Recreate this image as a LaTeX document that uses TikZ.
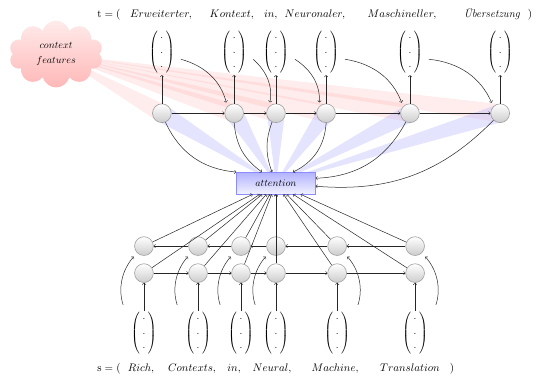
\documentclass[tikz,border=0pt]{standalone}
\usetikzlibrary{shapes.symbols,calc,backgrounds}
\newcommand{\dotvec}{$\renewcommand{\arraystretch}{1.2}\left(\begin{array}{@{\hspace{2.6pt}}c@{\hspace{2.6pt}}}\cdot\\ \cdot\\ \cdot\end{array}\right)$}
\begin{document}
\begin{tikzpicture}[
    rnn/.style={circle,draw=gray!75,semithick,top color=white,bottom color=gray!40,minimum size=0.66cm,inner sep=0pt},
    wvec/.style={inner xsep=6pt,inner ysep=1pt},
    word/.style={anchor=base,inner sep=0pt,font=\fontsize{11}{13}\selectfont},
    link/.style={->,line width=0.5pt,black!85},
    feed/.style={link,shorten >=4pt},
    srcfeed/.style={link,shorten <=6pt,shorten >=5pt},
    ctxbeam/.style={fill=red!30,opacity=0.25},
    attbeam/.style={fill=blue!30,opacity=0.35}
  ]
  \useasboundingbox (0,0) rectangle (18.91,13.22);

  \path (1.97,11.32) node [cloud,cloud puffs=10,aspect=1.5,minimum width=3.3cm,minimum height=2.35cm,top color=red!8,bottom color=red!28,align=center](ctx){$context$\\[3pt]$features$};
  \path (9.70,6.78) node [draw=blue!45,top color=blue!30,bottom color=blue!5,minimum width=2.78cm,minimum height=0.77cm](att){$attention$};

  % decoder
  \path (5.69,9.24) node [rnn](dec_1){};
  \path (8.23,9.24) node [rnn](dec_2){};
  \path (9.70,9.24) node [rnn](dec_3){};
  \path (11.46,9.24) node [rnn](dec_4){};
  \path (14.41,9.24) node [rnn](dec_5){};
  \path (17.58,9.24) node [rnn](dec_6){};
  \path (5.69,11.38) node [wvec](tgt_1){\dotvec};
  \path (8.23,11.38) node [wvec](tgt_2){\dotvec};
  \path (9.70,11.38) node [wvec](tgt_3){\dotvec};
  \path (11.46,11.38) node [wvec](tgt_4){\dotvec};
  \path (14.41,11.38) node [wvec](tgt_5){\dotvec};
  \path (17.58,11.38) node [wvec](tgt_6){\dotvec};
  \path (3.83,12.62) node [word](t_open){$\mathrm{t} = ($};
  \path (5.66,12.62) node [word](t_1){$Erweiterter,$};
  \path (8.15,12.62) node [word](t_2){$Kontext,$};
  \path (9.52,12.62) node [word](t_3){$in,$};
  \path (11.07,12.62) node [word](t_4){$Neuronaler,$};
  \path (14.13,12.62) node [word](t_5){$Maschineller,$};
  \path (17.29,12.62) node [word](t_6){\textit{Übersetzung}};
  \path (18.63,12.62) node [word](t_close){$)$};

  % encoder
  \path (5.06,3.62) node [rnn](fwd_1){};
  \path (6.96,3.62) node [rnn](fwd_2){};
  \path (8.47,3.62) node [rnn](fwd_3){};
  \path (9.70,3.62) node [rnn](fwd_4){};
  \path (11.85,3.62) node [rnn](fwd_5){};
  \path (14.59,3.62) node [rnn](fwd_6){};
  \path (5.06,4.57) node [rnn](bwd_1){};
  \path (6.96,4.57) node [rnn](bwd_2){};
  \path (8.47,4.57) node [rnn](bwd_3){};
  \path (9.70,4.57) node [rnn](bwd_4){};
  \path (11.85,4.57) node [rnn](bwd_5){};
  \path (14.59,4.57) node [rnn](bwd_6){};
  \path (5.06,1.50) node [wvec](src_1){\dotvec};
  \path (6.96,1.50) node [wvec](src_2){\dotvec};
  \path (8.47,1.50) node [wvec](src_3){\dotvec};
  \path (9.70,1.50) node [wvec](src_4){\dotvec};
  \path (11.85,1.50) node [wvec](src_5){\dotvec};
  \path (14.59,1.50) node [wvec](src_6){\dotvec};
  \path (3.83,0.15) node [word](s_open){$\mathrm{s} = ($};
  \path (4.96,0.15) node [word](s_1){$Rich,$};
  \path (6.75,0.15) node [word](s_2){$Contexts,$};
  \path (8.23,0.15) node [word](s_3){$in,$};
  \path (9.56,0.15) node [word](s_4){$Neural,$};
  \path (11.78,0.15) node [word](s_5){$Machine,$};
  \path (14.41,0.15) node [word](s_6){$Translation$};
  \path (15.89,0.15) node [word](s_close){$)$};

  \begin{scope}[on background layer]
    \fill[ctxbeam] (ctx.center) -- ($(dec_1)!9pt!90:(ctx.center)$) -- ($(dec_1)!9pt!-90:(ctx.center)$) -- cycle;
    \fill[ctxbeam] (ctx.center) -- ($(dec_2)!9pt!90:(ctx.center)$) -- ($(dec_2)!9pt!-90:(ctx.center)$) -- cycle;
    \fill[ctxbeam] (ctx.center) -- ($(dec_3)!9pt!90:(ctx.center)$) -- ($(dec_3)!9pt!-90:(ctx.center)$) -- cycle;
    \fill[ctxbeam] (ctx.center) -- ($(dec_4)!9pt!90:(ctx.center)$) -- ($(dec_4)!9pt!-90:(ctx.center)$) -- cycle;
    \fill[ctxbeam] (ctx.center) -- ($(dec_5)!9pt!90:(ctx.center)$) -- ($(dec_5)!9pt!-90:(ctx.center)$) -- cycle;
    \fill[ctxbeam] (ctx.center) -- ($(dec_6)!9pt!90:(ctx.center)$) -- ($(dec_6)!9pt!-90:(ctx.center)$) -- cycle;
    \fill[attbeam] (att.center) -- ($(dec_1)!9pt!90:(att.center)$) -- ($(dec_1)!9pt!-90:(att.center)$) -- cycle;
    \fill[attbeam] (att.center) -- ($(dec_2)!9pt!90:(att.center)$) -- ($(dec_2)!9pt!-90:(att.center)$) -- cycle;
    \fill[attbeam] (att.center) -- ($(dec_3)!9pt!90:(att.center)$) -- ($(dec_3)!9pt!-90:(att.center)$) -- cycle;
    \fill[attbeam] (att.center) -- ($(dec_4)!9pt!90:(att.center)$) -- ($(dec_4)!9pt!-90:(att.center)$) -- cycle;
    \fill[attbeam] (att.center) -- ($(dec_5)!9pt!90:(att.center)$) -- ($(dec_5)!9pt!-90:(att.center)$) -- cycle;
    \fill[attbeam] (att.center) -- ($(dec_6)!9pt!90:(att.center)$) -- ($(dec_6)!9pt!-90:(att.center)$) -- cycle;
  \end{scope}

  \draw[link] (dec_1) -- (dec_2);
  \draw[link] (dec_2) -- (dec_3);
  \draw[link] (dec_3) -- (dec_4);
  \draw[link] (dec_4) -- (dec_5);
  \draw[link] (dec_5) -- (dec_6);
  \draw[link] (dec_1) -- (tgt_1);
  \draw[link] (dec_2) -- (tgt_2);
  \draw[link] (dec_3) -- (tgt_3);
  \draw[link] (dec_4) -- (tgt_4);
  \draw[link] (dec_5) -- (tgt_5);
  \draw[link] (dec_6) -- (tgt_6);
  \draw[feed] (tgt_1.-20) to[bend left=30] (dec_2.north west);
  \draw[feed] (tgt_2.-20) to[bend left=30] (dec_3.north west);
  \draw[feed] (tgt_3.-20) to[bend left=30] (dec_4.north west);
  \draw[feed] (tgt_4.-20) to[bend left=30] (dec_5.north west);
  \draw[feed] (tgt_5.-20) to[bend left=30] (dec_6.north west);
  \draw[link] (dec_1) to[bend right=30] (att.north west);
  \draw[link] (dec_2) to[bend right=25] ([xshift=-14pt]att.north);
  \draw[link] (dec_3) to[bend right=20] ([xshift=-4pt]att.north);
  \draw[link] (dec_4) to[bend left=30] ([xshift=17pt]att.north);
  \draw[link] (dec_5) to[bend left=30] ([yshift=5pt]att.east);
  \draw[link] (dec_6) to[bend left=25] ([yshift=-3pt]att.east);

  \draw[link] (src_1) -- (fwd_1);
  \draw[link] (src_2) -- (fwd_2);
  \draw[link] (src_3) -- (fwd_3);
  \draw[link] (src_4) -- (fwd_4);
  \draw[link] (src_5) -- (fwd_5);
  \draw[link] (src_6) -- (fwd_6);
  \draw[link] (fwd_1) -- (fwd_2);
  \draw[link] (fwd_2) -- (fwd_3);
  \draw[link] (fwd_3) -- (fwd_4);
  \draw[link] (fwd_4) -- (fwd_5);
  \draw[link] (fwd_5) -- (fwd_6);
  \draw[link] (bwd_2) -- (bwd_1);
  \draw[link] (bwd_3) -- (bwd_2);
  \draw[link] (bwd_4) -- (bwd_3);
  \draw[link] (bwd_5) -- (bwd_4);
  \draw[link] (bwd_6) -- (bwd_5);
  \draw[srcfeed] (src_1.north west) to[bend left=30] (bwd_1.south west);
  \draw[srcfeed] (src_2.north west) to[bend left=30] (bwd_2.south west);
  \draw[srcfeed] (src_3.north west) to[bend left=30] (bwd_3.south west);
  \draw[srcfeed] (src_4.north west) to[bend left=30] (bwd_4.south west);
  \draw[srcfeed] (src_5.north east) to[bend right=30] (bwd_5.south east);
  \draw[srcfeed] (src_6.north east) to[bend right=30] (bwd_6.south east);
  \draw[link] (fwd_1) -- (att);
  \draw[link] (fwd_2) -- (att);
  \draw[link] (fwd_3) -- (att);
  \draw[link] (fwd_4) -- (att);
  \draw[link] (fwd_5) -- (att);
  \draw[link] (fwd_6) -- (att);
  \draw[link] (bwd_1) -- (att);
  \draw[link] (bwd_2) -- (att);
  \draw[link] (bwd_3) -- (att);
  \draw[link] (bwd_4) -- (att);
  \draw[link] (bwd_5) -- (att);
  \draw[link] (bwd_6) -- (att);

\end{tikzpicture}
\end{document}
